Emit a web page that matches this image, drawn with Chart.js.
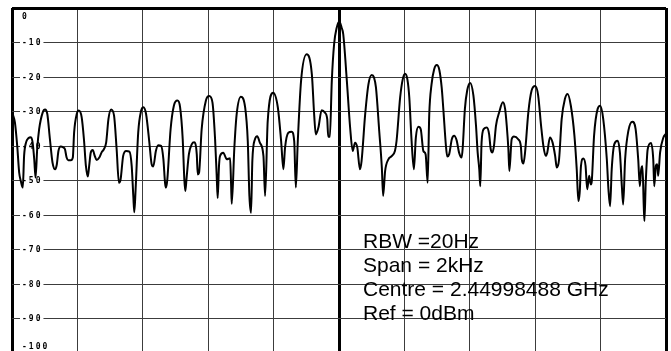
<!DOCTYPE html>
<html>
<head>
<meta charset="utf-8">
<title>Spectrum trace</title>
<script src="https://cdn.jsdelivr.net/npm/chart.js@4.4.1/dist/chart.umd.min.js"></script>
<style>
  html, body { margin: 0; padding: 0; background: #fff; overflow: hidden; }
  canvas { display: block; }
</style>
</head>
<body>
<canvas id="spectrum" width="671" height="351"></canvas>
<script>
// Frequency offset from the centre frequency (Hz)
const freqOffsetHz = [
  -998, -991, -984, -978, -973, -967, -963, -957, -950, -942, -937, -932, -928, -923, -917, -906,
  -899, -892, -884, -876, -868, -863, -858, -851, -843, -838, -833, -828, -820, -814, -810, -802,
  -796, -787, -780, -774, -768, -764, -759, -753, -747, -741, -733, -726, -719, -712, -705, -697,
  -688, -680, -673, -668, -660, -651, -641, -634, -629, -626, -622, -614, -605, -598, -590, -580,
  -573, -568, -560, -553, -544, -537, -532, -529, -525, -515, -505, -494, -486, -478, -473, -470,
  -466, -459, -450, -443, -435, -432, -428, -420, -407, -397, -387, -379, -374, -371, -367, -364,
  -354, -343, -333, -330, -328, -320, -313, -300, -287, -279, -274, -269, -265, -257, -250, -242,
  -231, -226, -218, -201, -187, -177, -170, -165, -155, -145, -137, -132, -126, -116, -99, -83,
  -76, -71, -63, -53, -43, -36, -33, -28, -22, -15, -7, 1, 8, 13, 24, 34,
  42, 49, 56, 64, 69, 80, 90, 100, 107, 113, 123, 131, 135, 141, 151, 161,
  171, 176, 187, 195, 202, 209, 215, 222, 229, 235, 243, 250, 258, 265, 271, 276,
  283, 291, 299, 307, 314, 319, 327, 331, 337, 345, 352, 360, 367, 375, 378, 385,
  392, 401, 411, 419, 424, 429, 432, 436, 443, 452, 459, 464, 469, 474, 480, 490,
  501, 508, 513, 518, 521, 528, 535, 548, 556, 559, 564, 569, 579, 589, 600, 609,
  618, 625, 632, 637, 645, 653, 661, 666, 673, 681, 691, 699, 709, 720, 727, 732,
  736, 740, 747, 754, 759, 765, 770, 773, 780, 791, 799, 808, 819, 824, 829, 834,
  842, 852, 859, 865, 869, 875, 885, 897, 907, 915, 920, 924, 928, 932, 934, 938,
  944, 954, 961, 964, 969, 973, 976, 982, 992, 999
];

// Measured level (dBm)
const levelDbm = [
  -30.7, -33.2, -40.0, -47.7, -50.1, -52.0, -42.8, -38.9, -37.7, -37.4, -38.9, -43.8, -49.1, -40.9, -35.1, -30.2,
  -29.4, -30.7, -38.0, -44.8, -46.7, -45.3, -41.4, -40.1, -40.4, -40.9, -43.3, -44.1, -44.1, -43.3, -36.0, -30.7,
  -29.7, -31.6, -38.0, -45.7, -48.8, -45.7, -41.8, -41.1, -42.8, -44.0, -43.3, -41.8, -40.9, -38.9, -32.1, -29.4,
  -31.1, -40.9, -50.6, -49.7, -42.8, -41.4, -41.6, -45.7, -54.5, -59.1, -52.5, -36.0, -29.7, -28.7, -30.7, -38.9,
  -45.2, -45.9, -41.4, -39.7, -39.9, -43.8, -50.6, -52.0, -49.6, -35.1, -28.3, -26.8, -28.7, -37.9, -49.6, -53.0,
  -49.1, -42.3, -39.4, -38.9, -42.3, -48.2, -47.7, -35.1, -26.8, -25.5, -27.3, -37.9, -48.6, -55.0, -45.7, -42.9,
  -41.9, -43.8, -43.5, -51.1, -56.7, -40.4, -30.8, -25.7, -28.8, -38.5, -54.4, -59.3, -44.3, -38.0, -37.1, -39.0,
  -42.9, -54.4, -32.7, -24.5, -28.8, -38.5, -46.7, -40.4, -36.1, -35.8, -38.5, -52.0, -38.5, -21.1, -13.4, -19.2,
  -30.8, -36.6, -34.6, -29.6, -30.3, -32.2, -37.3, -37.3, -21.1, -10.5, -5.7, -3.9, -5.7, -7.6, -21.1, -34.6,
  -41.4, -39.0, -40.4, -46.7, -44.3, -30.8, -22.1, -19.4, -20.1, -23.0, -35.6, -46.2, -54.4, -47.2, -43.8, -42.9,
  -41.4, -38.5, -25.9, -20.6, -19.0, -20.6, -25.9, -38.5, -46.7, -37.5, -34.4, -35.1, -41.4, -42.4, -50.6, -30.8,
  -22.1, -17.7, -16.5, -18.0, -23.0, -29.2, -39.9, -43.0, -42.3, -38.0, -37.0, -38.4, -41.8, -43.3, -40.9, -29.2,
  -23.9, -21.7, -25.3, -34.1, -41.8, -46.7, -51.6, -38.9, -35.0, -34.6, -36.5, -40.9, -41.8, -39.9, -34.1, -30.2,
  -27.3, -29.2, -34.1, -40.9, -47.2, -38.0, -37.2, -38.0, -39.9, -43.8, -45.0, -41.8, -30.2, -23.9, -22.6, -25.3,
  -34.1, -39.9, -42.8, -41.8, -37.5, -38.9, -42.8, -46.2, -43.8, -32.1, -26.3, -24.9, -28.3, -37.0, -46.7, -55.9,
  -53.5, -45.7, -43.6, -45.7, -52.5, -48.6, -51.1, -50.1, -37.0, -29.2, -28.3, -32.1, -43.8, -52.5, -57.4, -46.7,
  -39.4, -38.4, -41.8, -51.6, -56.9, -43.8, -35.5, -32.9, -35.0, -43.8, -51.6, -46.8, -45.8, -57.4, -61.7, -50.7,
  -40.9, -39.1, -43.8, -51.6, -45.7, -45.2, -48.6, -41.8, -37.5, -36.5
];

// Graticule: one line every 200 Hz and every 10 dB
const freqTicks = [-1000, -800, -600, -400, -200, 0, 200, 400, 600, 800, 1000];
const levelTicks = [0, -10, -20, -30, -40, -50, -60, -70, -80, -90, -100];

// Instrument settings shown on the screen
const infoLines = ['RBW =20Hz', 'Span = 2kHz', 'Centre = 2.44998488 GHz', 'Ref = 0dBm'];

const points = freqOffsetHz.map((f, i) => ({ x: f, y: levelDbm[i] }));

const isHeavy = v => v === 0 || v === -1000 || v === 1000;

// Level labels sit inside the graticule, on a white patch that breaks the line
const levelLabels = {
  id: 'levelLabels',
  beforeDatasetsDraw(chart) {
    const ctx = chart.ctx;
    const y = chart.scales.y;
    ctx.save();
    ctx.font = 'bold 8px "DejaVu Sans Mono"';
    ctx.letterSpacing = '2px';
    ctx.textBaseline = 'middle';
    ctx.textAlign = 'left';
    levelTicks.forEach(v => {
      let py = y.getPixelForValue(v);
      if (v === 0) py += 8;
      if (v === -100) py -= 7;
      const text = String(v);
      const w = ctx.measureText(text).width;
      const px = chart.chartArea.left + 10;
      ctx.fillStyle = '#fff';
      ctx.fillRect(px - 2, py - 4, w + 3, 8);
      ctx.fillStyle = '#000';
      ctx.fillText(text, px, py + 0.5);
    });
    ctx.restore();
  }
};

// Settings block drawn over the trace
const infoText = {
  id: 'infoText',
  afterDatasetsDraw(chart) {
    const ctx = chart.ctx;
    ctx.save();
    ctx.font = '21px "Liberation Sans", Arial, sans-serif';
    ctx.fillStyle = '#000';
    ctx.textBaseline = 'alphabetic';
    ctx.textAlign = 'left';
    infoLines.forEach((line, i) => {
      ctx.fillText(line, 363, 248 + i * 24);
    });
    ctx.restore();
  }
};

new Chart(document.getElementById('spectrum'), {
  type: 'line',
  data: {
    datasets: [{
      data: points,
      borderColor: '#000',
      borderWidth: 2,
      pointRadius: 0,
      fill: false,
      cubicInterpolationMode: 'monotone'
    }]
  },
  options: {
    responsive: false,
    animation: false,
    devicePixelRatio: 1,
    layout: { padding: { left: 12, right: 5, top: 8, bottom: 0 } },
    plugins: { legend: { display: false }, tooltip: { enabled: false } },
    scales: {
      x: {
        type: 'linear',
        min: -1000,
        max: 1000,
        afterBuildTicks: s => { s.ticks = freqTicks.map(v => ({ value: v })); },
        ticks: { display: false },
        border: { display: false },
        grid: {
          drawTicks: false,
          color: c => isHeavy(c.tick.value) ? '#000' : '#3c3c3c',
          lineWidth: c => isHeavy(c.tick.value) ? 3 : 1
        }
      },
      y: {
        type: 'linear',
        min: -99.3,
        max: 0,
        afterBuildTicks: s => { s.ticks = levelTicks.filter(v => v > -100).map(v => ({ value: v })); },
        ticks: { display: false },
        border: { display: false },
        grid: {
          drawTicks: false,
          color: c => c.tick.value === 0 ? '#000' : '#3c3c3c',
          lineWidth: c => c.tick.value === 0 ? 3 : 1
        }
      }
    }
  },
  plugins: [levelLabels, infoText]
});
</script>
</body>
</html>
